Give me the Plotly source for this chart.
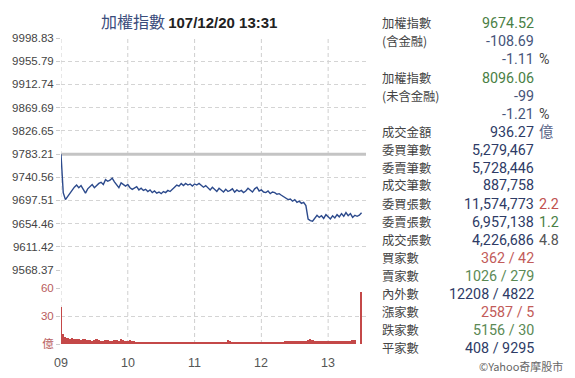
import pandas as pd
import plotly.graph_objects as go

# ---------------- data ----------------
prev_close = 9783.21
session_start = "2018-12-20 09:00"
session_end = "2018-12-20 13:30"
axis_end = "2018-12-20 13:34"
times = pd.date_range(session_start, session_end, freq="2min")  # 136 sample times

price = [
    9783.2, 9712, 9699, 9705, 9710, 9718, 9722, 9726, 9721, 9725,
    9718, 9711, 9719, 9724, 9727, 9721, 9725, 9729, 9731, 9727,
    9736, 9733, 9735, 9739, 9732, 9727, 9721, 9730, 9727, 9724,
    9727, 9721, 9718, 9720, 9723, 9717, 9720, 9716, 9718, 9714,
    9717, 9712, 9715, 9711, 9713, 9710, 9714, 9712, 9716, 9714,
    9719, 9722, 9726, 9724, 9729, 9725, 9729, 9726, 9728, 9724,
    9728, 9726, 9729, 9725, 9722, 9725, 9721, 9717, 9722, 9718,
    9714, 9720, 9717, 9713, 9718, 9714, 9716, 9719, 9713, 9717,
    9714, 9716, 9712, 9715, 9720, 9716, 9713, 9719, 9722, 9715,
    9717, 9713, 9712, 9715, 9710, 9713, 9712, 9709, 9710, 9707,
    9704, 9701, 9699, 9700, 9696, 9699, 9694, 9696, 9692, 9694,
    9688, 9663, 9660, 9659, 9664, 9670, 9666, 9669, 9664, 9671,
    9667, 9663, 9669, 9665, 9671, 9667, 9673, 9668, 9675, 9669,
    9673, 9666, 9670, 9668, 9670, 9674.52,
]

volume = [
    40, 11, 8, 6, 5, 6, 5, 5, 5, 4,
    5, 5, 4, 4, 3, 4, 5, 4, 3, 3,
    4, 4, 3, 3, 4, 4, 3, 5, 4, 3,
    3, 4.5, 3.5, 3, 2.5, 2, 2.5, 2, 2.5, 2,
    2, 2, 2.5, 2, 1.8, 2.5, 1.8, 2, 1.8, 2.5,
    2, 1.8, 2, 1.8, 2, 2.5, 1.8, 2, 1.8, 2,
    2, 2, 2.5, 1.8, 2, 2.5, 2, 2.5, 2.5, 2,
    2, 2, 2.5, 2, 2.5, 4.5, 3.5, 2.5, 2.5, 2,
    2.5, 2, 2.5, 2, 2, 2, 2.5, 2, 2, 2,
    2, 2, 2.5, 2, 2, 2.5, 2, 2.5, 2.5, 2.5,
    2.5, 3, 3.5, 3, 3.5, 3, 3, 3.5, 3, 3.5,
    3.5, 4, 5.5, 4, 3, 3, 3, 3, 3, 3,
    3, 3, 3, 3, 3, 3, 3, 3.5, 3, 3.5,
    3.5, 4.5, 4.5, 0, 0, 56,
]

price_ticks = [9568.37, 9611.42, 9654.46, 9697.51, 9740.56, 9783.21,
               9826.65, 9869.69, 9912.74, 9955.79, 9998.83]
vol_ticks = [0, 30, 60]
vol_tick_text = ["億", "30", "60"]
hour_ticks = ["2018-12-20 09:00", "2018-12-20 10:00", "2018-12-20 11:00",
              "2018-12-20 12:00", "2018-12-20 13:00"]
hour_labels = ["09", "10", "11", "12", "13"]

GREEN = "#4a7f45"
SLATE = "#46557a"
NAVY = "#2e3b66"
RED = "#c0504d"
DARK = "#444444"

panel_labels = ["加權指數", "(含金融)", "", "加權指數", "(未含金融)", "",
                "成交金額", "委買筆數", "委賣筆數", "成交筆數", "委買張數",
                "委賣張數", "成交張數", "買家數", "賣家數", "內外數",
                "漲家數", "跌家數", "平家數"]
panel_values = ["9674.52", "-108.69", "-1.11", "8096.06", "-99", "-1.21",
                "936.27", "5,279,467", "5,728,446", "887,758", "11,574,773",
                "6,957,138", "4,226,686", "362 / 42", "1026 / 279",
                "12208 / 4822", "2587 / 5", "5156 / 30", "408 / 9295"]
panel_value_colors = [GREEN, SLATE, SLATE, GREEN, SLATE, SLATE,
                      NAVY, NAVY, NAVY, NAVY, NAVY, NAVY, NAVY,
                      "#c25b59", "#5b8a55", NAVY, "#c25b59", "#5b8a55", NAVY]
panel_suffix = ["", "", "%", "", "", "%", "億", "", "", "", "2.2", "1.2", "4.8",
                "", "", "", "", "", ""]
panel_suffix_colors = ["", "", DARK, "", "", DARK, "#5a6488", "", "", "",
                       RED, GREEN, "#555555", "", "", "", "", "", ""]

# ---------------- layout helpers ----------------
W, H = 575, 378
ML, MR, MT, MB = 58, 209, 38, 34
PW, PH = W - ML - MR, H - MT - MB


def px_x(x):
    return (x - ML) / PW


def px_y(y):
    return (H - MB - y) / PH


price_dom = [px_y(270), 1.0]
vol_dom = [0.0, px_y(288)]

CJK = "Noto Sans CJK TC, Microsoft JhengHei, sans-serif"
NUM = "Roboto, Noto Sans CJK TC, sans-serif"
AX = "Liberation Sans, Arial, Noto Sans CJK TC, sans-serif"

fig = go.Figure()

# previous close reference line
fig.add_trace(go.Scatter(
    x=[session_start, axis_end], y=[prev_close, prev_close],
    mode="lines", line=dict(color="#c4c4c4", width=3),
    xaxis="x", yaxis="y", hoverinfo="skip", showlegend=False))

fig.add_trace(go.Scatter(
    x=times, y=price, mode="lines",
    line=dict(color="#2c4a8c", width=1.4),
    xaxis="x", yaxis="y", showlegend=False))

fig.add_trace(go.Bar(
    x=times, y=volume, width=100000,
    marker=dict(color="#c44848", line=dict(width=0)),
    xaxis="x2", yaxis="y2", showlegend=False))

# vertical dashed grid across both panels
shapes = []
for t in hour_ticks:
    shapes.append(dict(type="line", xref="x", yref="paper", x0=t, x1=t,
                       y0=0, y1=1, layer="below",
                       line=dict(color="#cfcfcf", width=1, dash="4px,3px")))

annotations = [dict(
    xref="paper", yref="paper", x=px_x(96), y=px_y(21),
    xanchor="left", yanchor="middle", showarrow=False,
    text='<span style="font-family:Noto Sans CJK TC;font-size:16px;color:#3b4d7c">加權指數</span> '
         '<b style="font-family:Liberation Sans, Arial;font-size:15px;color:#222">107/12/20 13:31</b>',
)]

# hour labels under the volume panel
for t, lab in zip(hour_ticks, hour_labels):
    annotations.append(dict(xref="x2", yref="paper", x=t, y=px_y(362.5),
                            xanchor="center", yanchor="middle", showarrow=False,
                            text=lab, font=dict(family=AX, size=12.5, color="#555555")))

for i, lab in enumerate(panel_labels):
    yy = px_y(23.5 + 18.0 * i)
    if lab:
        annotations.append(dict(xref="paper", yref="paper", x=px_x(380.5), y=yy,
                                xanchor="left", yanchor="middle", showarrow=False,
                                text=lab, font=dict(family=CJK, size=12.3, color="#444444")))
    annotations.append(dict(xref="paper", yref="paper", x=px_x(537.5), y=yy,
                            xanchor="right", yanchor="middle", showarrow=False,
                            text=panel_values[i],
                            font=dict(family=NUM, size=14.3, color=panel_value_colors[i])))
    if panel_suffix[i]:
        annotations.append(dict(xref="paper", yref="paper", x=px_x(539), y=yy,
                                xanchor="left", yanchor="middle", showarrow=False,
                                text=panel_suffix[i],
                                font=dict(family=NUM, size=14.3, color=panel_suffix_colors[i])))

annotations.append(dict(xref="paper", yref="paper", x=px_x(567), y=px_y(366),
                        xanchor="right", yanchor="middle", showarrow=False,
                        text="©Yahoo奇摩股市",
                        font=dict(family=CJK, size=11, color="#666666")))

fig.update_layout(
    width=W, height=H,
    margin=dict(l=ML, r=MR, t=MT, b=MB, pad=0),
    paper_bgcolor="white", plot_bgcolor="white",
    bargap=0,
    shapes=shapes,
    annotations=annotations,
    xaxis=dict(domain=[0, 1], anchor="y", range=[session_start, axis_end],
               showgrid=False, showticklabels=False, zeroline=False, showline=False,
               tickvals=hour_ticks),
    xaxis2=dict(domain=[0, 1], anchor="y2", matches="x", range=[session_start, axis_end],
                showgrid=False, zeroline=False, showline=False,
                tickvals=hour_ticks, showticklabels=False, ticks=""),
    yaxis=dict(domain=price_dom, range=[price_ticks[0], price_ticks[-1]],
               tickvals=price_ticks, ticktext=[f"{v:.2f}" for v in price_ticks],
               showgrid=True, gridcolor="#d4d4d4", griddash="4px,3px", gridwidth=1,
               zeroline=False, showline=False, ticks="outside", ticklen=4,
               tickcolor="#cccccc", tickfont=dict(family=AX, size=11.5, color="#444444")),
    yaxis2=dict(domain=vol_dom, range=[0, 60],
                tickvals=vol_ticks, ticktext=vol_tick_text,
                showgrid=True, gridcolor="#d4d4d4", griddash="4px,3px", gridwidth=1,
                zeroline=False, showline=False, ticks="outside", ticklen=4,
                tickcolor="#cccccc", tickfont=dict(family=AX, size=11.5, color="#b85c5c")),
)

fig.write_html("out.html",
               config={"displayModeBar": False},
               post_script="document.body.style.margin='0px';document.body.style.padding='0px';")
